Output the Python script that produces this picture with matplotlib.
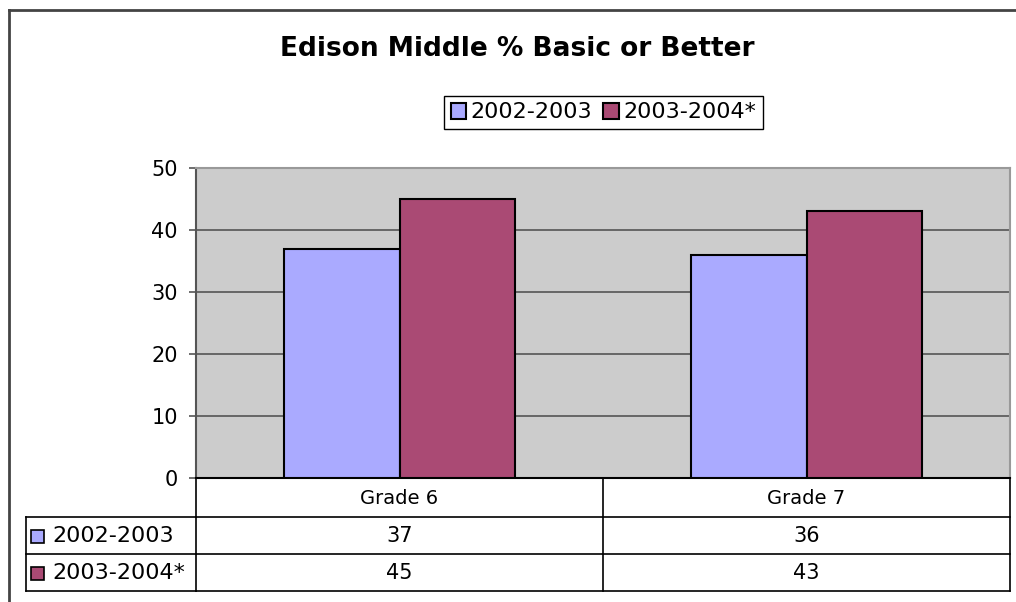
import matplotlib.pyplot as plt
import matplotlib.transforms as mtransforms
from matplotlib.patches import Rectangle
import numpy as np

# Dati del grafico
categorie = ['Grade 6', 'Grade 7']
serie = ['2002-2003', '2003-2004*']
valori_2002 = [37, 36]
valori_2003 = [45, 43]
colori = ['#AAAAFF', '#AA4A74']
tacche_y = [0, 10, 20, 30, 40, 50]
titolo = 'Edison Middle % Basic or Better'

plt.rcParams['font.family'] = 'DejaVu Sans'

W, H = 1016, 602
fig = plt.figure(figsize=(W / 100, H / 100), dpi=100)

# Asse in pixel per cornice e tabella
over = fig.add_axes([0, 0, 1, 1])
over.set_xlim(0, W)
over.set_ylim(H, 0)
over.axis('off')

# Area del grafico
L, R, T, B = 196, 1010, 168, 478
ax = fig.add_axes([L / W, 1 - B / H, (R - L) / W, (B - T) / H])
ax.set_facecolor('#CCCCCC')
x = np.arange(len(categorie))
w = 0.285
barre1 = ax.bar(x - w / 2, valori_2002, w, color=colori[0], edgecolor='black', lw=1.5, zorder=3, label=serie[0])
barre2 = ax.bar(x + w / 2, valori_2003, w, color=colori[1], edgecolor='black', lw=1.5, zorder=3, label=serie[1])
ax.set_xlim(-0.5, len(categorie) - 0.5)
ax.set_ylim(0, 50)
ax.set_yticks(tacche_y)
ax.set_xticks([])
ax.yaxis.grid(True, color='#555555', lw=1.2, zorder=1)
ax.set_axisbelow(True)
ax.spines['top'].set_color('#999999')
ax.spines['right'].set_color('#999999')
ax.spines['left'].set_color('#555555')
ax.spines['bottom'].set_color('black')
for s in ax.spines.values():
    s.set_linewidth(1.5)
ax.tick_params(axis='y', length=5, width=1.2, color='#555555', labelsize=15, pad=8)

# Cornice esterna
over.plot([9, 9], [10, H + 5], color='#444444', lw=2, clip_on=False)
over.plot([9, W + 5], [10, 10], color='#444444', lw=2, clip_on=False)

# Tabella dei dati
mix = mtransforms.blended_transform_factory(ax.transData, over.transData)
righe_y = [517, 554, 591]
for yy in righe_y:
    over.plot([26, L], [yy, yy], color='black', lw=1.2)
    ax.plot([-0.5, len(categorie) - 0.5], [yy, yy], color='black', lw=1.2, transform=mix, clip_on=False)
over.plot([26, 26], [517, 591], color='black', lw=1.2)
for xv in np.arange(len(categorie) + 1) - 0.5:
    ax.plot([xv, xv], [B, 591], color='black', lw=1.2, transform=mix, clip_on=False)

for i, cat in enumerate(categorie):
    ax.text(i, 498, cat, ha='center', va='center', fontsize=14, transform=mix)
    ax.text(i, 536, str(valori_2002[i]), ha='center', va='center', fontsize=15, transform=mix)
    ax.text(i, 573, str(valori_2003[i]), ha='center', va='center', fontsize=15, transform=mix)

for j, (nome, yc) in enumerate(zip(serie, [536, 573])):
    over.add_patch(Rectangle((31, yc - 6.5), 13, 13, facecolor=colori[j], edgecolor='black', lw=1.2))
    over.text(52, yc, nome, ha='left', va='center', fontsize=16)

# Titolo e legenda
fig.text(517 / W, 1 - 49 / H, titolo, ha='center', va='center', fontsize=19, fontweight='bold')
leg = fig.legend(handles=[barre1, barre2], loc='center', bbox_to_anchor=(603.5 / W, 1 - 112.5 / H),
                 ncol=2, fontsize=16, frameon=True, fancybox=False, edgecolor='black', framealpha=1,
                 handlelength=0.7, handleheight=0.7, handletextpad=0.2, columnspacing=0.5,
                 borderpad=0.3, borderaxespad=0)
leg.get_frame().set_linewidth(1)

plt.savefig('out.png', dpi=100)
